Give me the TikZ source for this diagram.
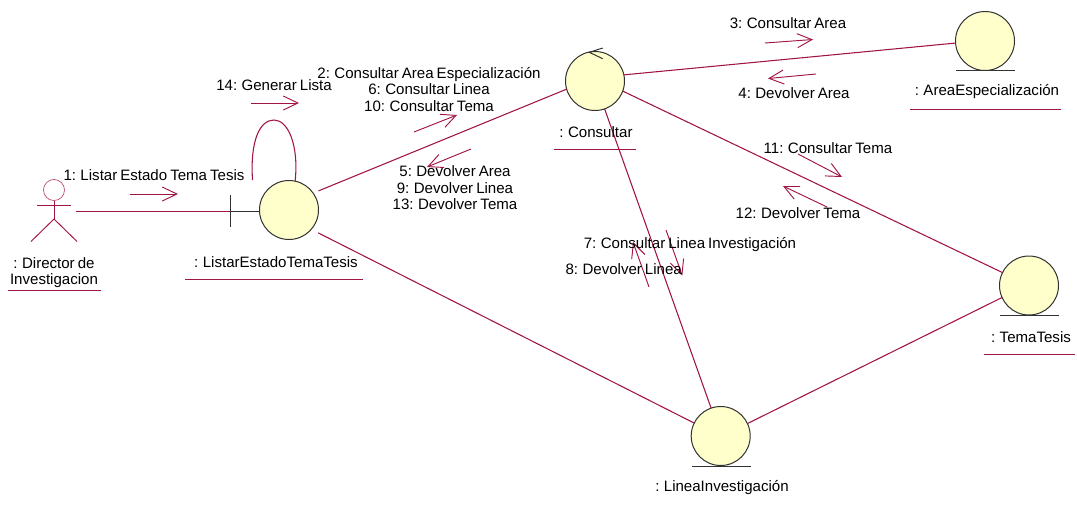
\documentclass[tikz,border=0pt]{standalone}
\usepackage{fontspec}
\setmainfont[WordSpace=0.72]{Liberation Sans}
\usetikzlibrary{arrows.meta}
\definecolor{rose}{RGB}{160,20,70}
\definecolor{ballfill}{RGB}{255,255,204}
\definecolor{balledge}{RGB}{50,50,50}
\tikzset{
  ball/.style={circle,draw=balledge,fill=ballfill,line width=0.75pt,minimum size=44.25pt,inner sep=0pt,outer sep=0pt},
  lbl/.style={font=\fontsize{11.3pt}{12.4pt}\selectfont,text=black,align=center,inner sep=0pt},
  link/.style={draw=rose,line width=0.8pt},
  msg/.style={draw=rose,line width=0.7pt,-{Straight Barb[length=11pt,width=10.5pt,line width=0.7pt]}},
  uline/.style={draw=rose,line width=0.75pt},
  baseline rule/.style={draw=balledge,line width=0.75pt}
}
\begin{document}
\begin{tikzpicture}[x=0.75pt,y=-0.75pt]
\useasboundingbox (0,0) rectangle (1077,504);
% balls
\node[ball] (L) at (289,210) {};
\node[ball] (C) at (595,81) {};
\node[ball] (A) at (985,41) {};
\node[ball] (T) at (1029,285.5) {};
\node[ball] (I) at (720.7,436) {};
% links
\draw[link,shorten <=4.3pt] (L.35.5) -- (C.196.7);
\draw[link,shorten <=5.8pt] (L.-41.4) -- (I.154);
\draw[link] (C.12.3) -- (A.184.4);
\draw[link] (C.-20.5) -- (T.154.2);
\draw[link] (C.-71) -- (I.109);
\draw[link] (I.25.5) -- (T.204.7);
\coordinate (loopfree) at (252.5,180);
\draw[link] (loopfree) .. controls (250,140) and (260,120) .. (274,120) .. controls (288,120) and (299,145) .. (L.78);
% boundary tick and actor link
\coordinate (actorfree) at (76,211);
\coordinate (tick) at (230,211);
\coordinate (tickT) at (230,195);
\coordinate (tickB) at (230,227);
\draw[draw=balledge,line width=0.75pt] (tickT) -- (tickB);
\draw[draw=balledge,line width=0.75pt] (tick) -- (tick -| L.west);
\draw[link,line width=0.7pt] (actorfree) -- (tick);
% actor
\node[circle,draw=rose!75,line width=0.55pt,minimum size=15.75pt,inner sep=0pt,outer sep=0pt] (head) at (54,190) {};
\coordinate (hip) at (54,219);
\coordinate (armL) at (37,205);
\coordinate (armR) at (71,205);
\coordinate (legL) at (31,241.5);
\coordinate (legR) at (77,241.5);
\draw[link,line width=0.7pt] (head.south) -- (hip);
\draw[link,line width=0.7pt] (armL) -- (armR);
\draw[link,line width=0.7pt] (legL) -- (hip) -- (legR);
% control arrowhead
\coordinate (ctipA) at (602.7,48);
\coordinate (ctip) at (589.3,52.3);
\coordinate (ctipB) at (602.7,58.7);
\draw[draw=balledge,line width=0.75pt] (ctipA) -- (ctip) -- (ctipB);
% entity base lines
\draw[baseline rule] (956,70.7) -- (1015,70.7);
\draw[baseline rule] (1000,315.5) -- (1059,315.5);
\draw[baseline rule] (692,466) -- (751,466);
% message arrows
\draw[msg] (130,194) -- (178,194);
\draw[msg] (251,103) -- (299,103);
\draw[msg] (414,132) -- (457,115);
\draw[msg] (471,149) -- (427,167);
\draw[msg] (765,43) -- (813,39.5);
\draw[msg] (816,74) -- (768,78.5);
\draw[msg] (798,154) -- (842,177);
\draw[msg] (827,207) -- (783,186);
\draw[msg] (649,287) -- (633,242);
\draw[msg] (666,230) -- (682.3,275.7);
% labels
\node[lbl] (m1) at (154,175) {1: Listar Estado Tema Tesis};
\node[lbl] (m14) at (274,85) {14: Generar Lista};
\node[lbl] (m2) at (429,89.5) {2: Consultar Area Especialización\\6: Consultar Linea\\10: Consultar Tema};
\node[lbl] (m5) at (455,188) {5: Devolver Area\\9: Devolver Linea\\13: Devolver Tema};
\node[lbl] (m3) at (788,23) {3: Consultar Area};
\node[lbl] (m4) at (794,93) {4: Devolver Area};
\node[lbl] (m11) at (828,148) {11: Consultar Tema};
\node[lbl] (m12) at (798,213) {12: Devolver Tema};
\node[lbl] (m7) at (690,245) {7: Consultar Linea Investigación};
\node[lbl] (m8) at (623.7,269) {8: Devolver Linea};
\node[lbl] (nd) at (54,272.5) {: Director de\\Investigacion};
\node[lbl] (nl) at (276,262) {: ListarEstadoTemaTesis};
\node[lbl] (nc) at (596,132) {: Consultar};
\node[lbl] (na) at (987,92) {: AreaEspecialización};
\node[lbl] (nt) at (1031,337) {: TemaTesis};
\node[lbl] (ni) at (722,488) {: LineaInvestigación};
% name underlines
\draw[uline] (8,290) -- (101,290);
\draw[uline] (185,279) -- (363,279);
\draw[uline] (554,149.5) -- (636,149.5);
\draw[uline] (910,109) -- (1061,109);
\draw[uline] (984,354.5) -- (1075,354.5);
\end{tikzpicture}
\end{document}
